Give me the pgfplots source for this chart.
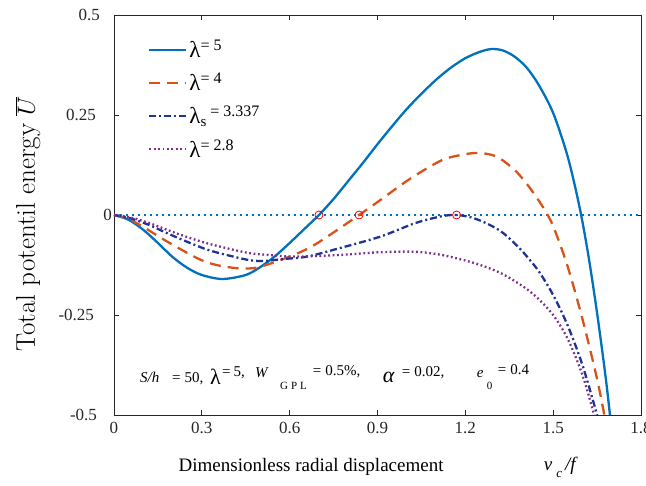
\documentclass[border=0pt]{standalone}
\usepackage{fontspec}
\usepackage{pgfplots}
\pgfplotsset{compat=1.18}
\newfontfamily\tnr{Liberation Serif}
\definecolor{mblue}{rgb}{0,0.447,0.741}
\definecolor{morange}{rgb}{0.851,0.325,0.098}
\definecolor{mnavy}{rgb}{0.12,0.2,0.58}
\definecolor{mpurple}{rgb}{0.494,0.184,0.556}
\definecolor{axgray}{rgb}{0.15,0.15,0.15}
\newcommand{\biglam}{{\fontsize{23}{23}\selectfont λ}}
\newcommand{\sups}[1]{\raisebox{7pt}{\fontsize{16}{16}\selectfont #1}}
\begin{document}
\begin{tikzpicture}
\begin{axis}[
  scale only axis, width=527pt, height=400pt,
  xmin=0, xmax=1.8, ymin=-0.5, ymax=0.5,
  clip mode=individual,
  xtick={0,0.3,0.6,0.9,1.2,1.5,1.8},
  xticklabels={0,0.3,0.6,0.9,1.2,1.5,1.8},
  ytick={-0.5,-0.25,0,0.25,0.5},
  yticklabels={-0.5\rule{15pt}{0pt},-0.25\rule{18pt}{0pt},0,0.25\rule{16pt}{0pt},0.5\rule{12pt}{0pt}},
  tick align=inside, xtick pos=both, ytick pos=both,
  major tick length=5pt,
  axis line style={axgray, line width=0.8pt},
  tick style={axgray, line width=0.8pt},
  ticklabel style={font=\tnr\fontsize{17}{17}\selectfont, text=axgray},
  xticklabel style={yshift=-4pt},
  yticklabel style={xshift=1.5pt},
  ylabel={Total potentil energy $\overline{U}$},
  ylabel style={at={(axis description cs:-0.163,0.4775)}, anchor=center, font=\fontsize{27}{27}\selectfont},
  xlabel={\tnr Dimensionless radial displacement},
  xlabel style={at={(axis description cs:0.374,-0.13)}, anchor=center, font=\fontsize{19}{19}\selectfont},
  legend style={at={(axis cs:0.116,0.437)}, anchor=north west, draw=none, fill=none,
    font=\tnr, row sep=14pt, inner sep=0pt, nodes={inner xsep=2pt, inner ysep=0pt}},
  legend cell align=left,
  legend image code/.code={\draw[#1] (0pt,0pt) -- (37pt,0pt);},
]
\addplot[mblue, line width=1.3pt, dash pattern=on 1.6pt off 4.4pt, forget plot] coordinates {(0,0) (1.8,0)};

\addplot[mblue, line width=2.3pt, smooth] coordinates {
(0,0) (0.05,-0.012) (0.1,-0.037) (0.15,-0.07) (0.2,-0.105) (0.25,-0.132) (0.3,-0.15)
(0.37,-0.16) (0.45,-0.15) (0.5,-0.13) (0.55,-0.103) (0.6,-0.07) (0.65,-0.035) (0.70,0)
(0.75,0.04) (0.8,0.085) (0.85,0.13) (0.9,0.177) (0.95,0.222) (1.0,0.265) (1.05,0.303)
(1.1,0.338) (1.15,0.368) (1.2,0.392) (1.25,0.408) (1.29,0.415) (1.33,0.411) (1.37,0.395)
(1.41,0.368) (1.45,0.326) (1.5,0.255) (1.55,0.145) (1.59,0.02) (1.62,-0.1) (1.65,-0.245)
(1.68,-0.41) (1.70,-0.54)};
\addlegendentry{\biglam\sups{= 5}}

\addplot[morange, line width=2.3pt, smooth, dash pattern=on 11pt off 7pt] coordinates {
(0,0) (0.05,-0.01) (0.1,-0.03) (0.19,-0.07) (0.29,-0.11) (0.35,-0.125) (0.42,-0.133)
(0.475,-0.133) (0.52,-0.125) (0.6,-0.104) (0.67,-0.081) (0.737,-0.05) (0.837,0)
(0.91,0.0375) (1.01,0.09) (1.12,0.137) (1.2,0.152) (1.25,0.155) (1.3,0.148) (1.34,0.13)
(1.38,0.104) (1.42,0.068) (1.465,0.02) (1.5,-0.028) (1.55,-0.13) (1.6,-0.26) (1.65,-0.41) (1.68,-0.52)};
\addlegendentry{\biglam\sups{= 4}}

\addplot[mnavy, line width=2.3pt, smooth, dash pattern=on 7pt off 3pt on 2pt off 3pt] coordinates {
(0,0) (0.055,-0.008) (0.12,-0.025) (0.18,-0.045) (0.25,-0.067) (0.32,-0.087) (0.385,-0.1)
(0.46,-0.1125) (0.51,-0.115) (0.58,-0.11) (0.66,-0.104) (0.77,-0.083) (0.91,-0.054)
(1.03,-0.02) (1.12,-0.003) (1.17,0) (1.22,-0.006) (1.27,-0.02) (1.32,-0.04) (1.36,-0.065)
(1.4,-0.095) (1.45,-0.14) (1.5,-0.2) (1.55,-0.277) (1.6,-0.375) (1.65,-0.5) (1.67,-0.56)};
\addlegendentry{\biglam\raisebox{-3pt}{\fontsize{15}{15}\selectfont s}\sups{ = 3.337}}

\addplot[mpurple, line width=2.3pt, smooth, dash pattern=on 1.8pt off 2.6pt] coordinates {
(0,0) (0.05,-0.005) (0.12,-0.02) (0.21,-0.045) (0.30,-0.067) (0.385,-0.083) (0.46,-0.095)
(0.53,-0.1) (0.62,-0.104) (0.77,-0.1) (0.91,-0.093) (1.03,-0.092) (1.12,-0.1) (1.23,-0.12)
(1.32,-0.145) (1.4,-0.18) (1.45,-0.21) (1.5,-0.25) (1.55,-0.31) (1.6,-0.4) (1.64,-0.5) (1.66,-0.56)};
\addlegendentry{\biglam\sups{= 2.8}}

\addplot[only marks, mark=o, mark size=4pt, red, line width=0.8pt, forget plot] coordinates {(0.70,0) (0.837,0) (1.17,0)};

\begin{scope}[every node/.style={anchor=base west, inner sep=0pt, font=\tnr\fontsize{15}{15}\selectfont}]
\node at (axis cs:0.0887,-0.42) {\textit{S/h}};
\node at (axis cs:0.198,-0.42) {=\hspace{4pt}50,};
\node[font=\tnr\fontsize{22}{22}\selectfont] at (axis cs:0.3276,-0.425) {λ};
\node at (axis cs:0.3686,-0.405) {=\hspace{3pt}5,};
\node at (axis cs:0.481,-0.4075) {\textit{W}};
\node[font=\tnr\fontsize{11}{11}\selectfont] at (axis cs:0.5666,-0.4375) {G\hspace{3pt}P\hspace{3pt}L};
\node at (axis cs:0.679,-0.4025) {=\hspace{4pt}0.5\%,};
\node[font=\tnr\itshape\fontsize{22}{22}\selectfont] at (axis cs:0.918,-0.42) {α};
\node at (axis cs:0.983,-0.405) {=\hspace{4pt}0.02,};
\node at (axis cs:1.239,-0.4075) {\textit{e}};
\node[font=\tnr\fontsize{11}{11}\selectfont] at (axis cs:1.273,-0.4375) {0};
\node at (axis cs:1.3106,-0.40) {=\hspace{4pt}0.4};
\end{scope}

\node[font=\tnr\fontsize{19}{19}\selectfont, anchor=center] at (axis description cs:0.848,-0.13)
{\textit{v}\raisebox{-7pt}{\fontsize{13}{13}\selectfont\hspace{4pt}\textit{c}}\hspace{3pt}\textit{/f}};
\end{axis}
\pgfresetboundingbox
\useasboundingbox (-114pt,-71pt) rectangle (532pt,415pt);
\end{tikzpicture}
\end{document}
